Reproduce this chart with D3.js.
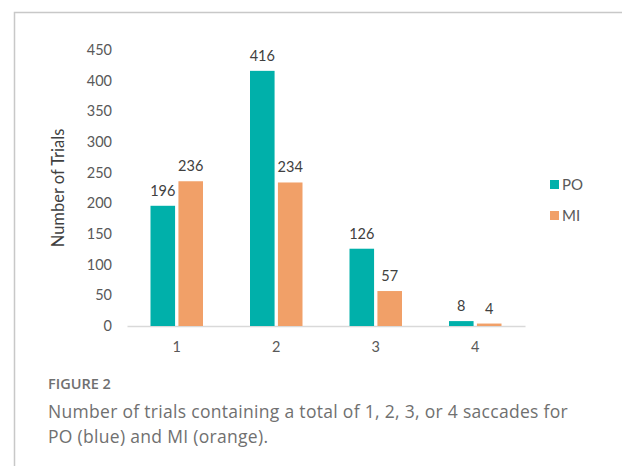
<!DOCTYPE html>
<html>
<head>
<meta charset="utf-8">
<script src="https://cdn.jsdelivr.net/npm/d3@7"></script>
<style>
  body { margin:0; background:#fff; }
  svg { display:block; }
</style>
</head>
<body>
<div id="chart"></div>
<script>
// datos de la figura
const categories = ['1', '2', '3', '4'];
const seriesNames = ['PO', 'MI'];
const poValues = [196, 416, 126, 8];
const miValues = [236, 234, 57, 4];
const yTicks = [0, 50, 100, 150, 200, 250, 300, 350, 400, 450];
const captionTitle = 'FIGURE 2';
const captionLines = [
  'Number of trials containing a total of 1, 2, 3, or 4 saccades for',
  'PO (blue) and MI (orange).'
];

const width = 622, height = 466;
const colors = {PO: '#00b0aa', MI: '#f1a068'};

const svg = d3.select('#chart').append('svg')
  .attr('width', width)
  .attr('height', height);

// marco gris (arriba e izquierda)
svg.append('path')
  .attr('d', `M14.5,${height} V12.5 H${width}`)
  .attr('fill', 'none')
  .attr('stroke', '#c8c8c8')
  .attr('stroke-width', 1.5);

const x = d3.scaleBand()
  .domain(categories)
  .range([127, 525]);

const x1 = d3.scaleBand()
  .domain(seriesNames)
  .range([23.5, x.bandwidth() - 23.5])
  .paddingInner(0.12);

const y = d3.scaleLinear()
  .domain([0, 450])
  .range([326, 50]);

const font = "Lato, 'Open Sans', sans-serif";

// eje Y (solo etiquetas)
const yAxis = svg.append('g')
  .attr('transform', 'translate(112,0)')
  .call(d3.axisLeft(y).tickValues(yTicks).tickSize(0).tickPadding(0));
yAxis.select('.domain').remove();
yAxis.selectAll('text')
  .attr('font-family', font)
  .attr('font-size', 14.5)
  .attr('fill', '#595959');

// eje X
const xAxis = svg.append('g')
  .attr('transform', 'translate(0,326)')
  .call(d3.axisBottom(x).tickSize(0).tickPadding(16));
xAxis.select('.domain').attr('stroke', '#d9d9d9').attr('stroke-width', 1.5);
xAxis.selectAll('text')
  .attr('font-family', font)
  .attr('font-size', 14.5)
  .attr('fill', '#595959');

// titulo del eje Y
svg.append('text')
  .attr('transform', 'translate(64,188) rotate(-90)')
  .attr('text-anchor', 'middle')
  .attr('font-family', font)
  .attr('font-size', 16.5)
  .attr('fill', '#404040')
  .text('Number of Trials');

const rows = categories.map((c, i) => ({cat: c, vals: [
  {key: 'PO', value: poValues[i]},
  {key: 'MI', value: miValues[i]}
]}));

const groups = svg.selectAll('g.grp')
  .data(rows)
  .enter().append('g')
  .attr('class', 'grp')
  .attr('transform', d => `translate(${x(d.cat)},0)`);

groups.selectAll('rect')
  .data(d => d.vals)
  .enter().append('rect')
  .attr('x', d => x1(d.key))
  .attr('y', d => y(d.value))
  .attr('width', x1.bandwidth())
  .attr('height', d => y(0) - y(d.value))
  .attr('fill', d => colors[d.key]);

groups.selectAll('text.lbl')
  .data(d => d.vals)
  .enter().append('text')
  .attr('class', 'lbl')
  .attr('x', d => x1(d.key) + x1.bandwidth() / 2)
  .attr('y', d => y(d.value) - 10)
  .attr('text-anchor', 'middle')
  .attr('font-family', font)
  .attr('font-size', 14.5)
  .attr('fill', '#404040')
  .text(d => d.value);

// leyenda
const legend = svg.selectAll('g.leg')
  .data(seriesNames)
  .enter().append('g')
  .attr('class', 'leg')
  .attr('transform', (d, i) => `translate(550,${180 + i * 31})`);
legend.append('rect')
  .attr('width', 9).attr('height', 9)
  .attr('fill', d => colors[d]);
legend.append('text')
  .attr('x', 12).attr('y', 10)
  .attr('font-family', font)
  .attr('font-size', 15)
  .attr('fill', '#595959')
  .text(d => d);

// pie de figura
svg.append('text')
  .attr('x', 48).attr('y', 389)
  .attr('font-family', "'Open Sans', sans-serif")
  .attr('font-size', 14.5)
  .attr('font-weight', 600)
  .attr('fill', '#707070')
  .text(captionTitle);

svg.selectAll('text.cap')
  .data(captionLines)
  .enter().append('text')
  .attr('class', 'cap')
  .attr('x', 48)
  .attr('y', (d, i) => 418 + i * 24.5)
  .attr('font-family', "'Open Sans', sans-serif")
  .attr('font-size', 17.5)
  .attr('letter-spacing', 0.3)
  .attr('fill', '#707070')
  .text(d => d);
</script>
</body>
</html>
